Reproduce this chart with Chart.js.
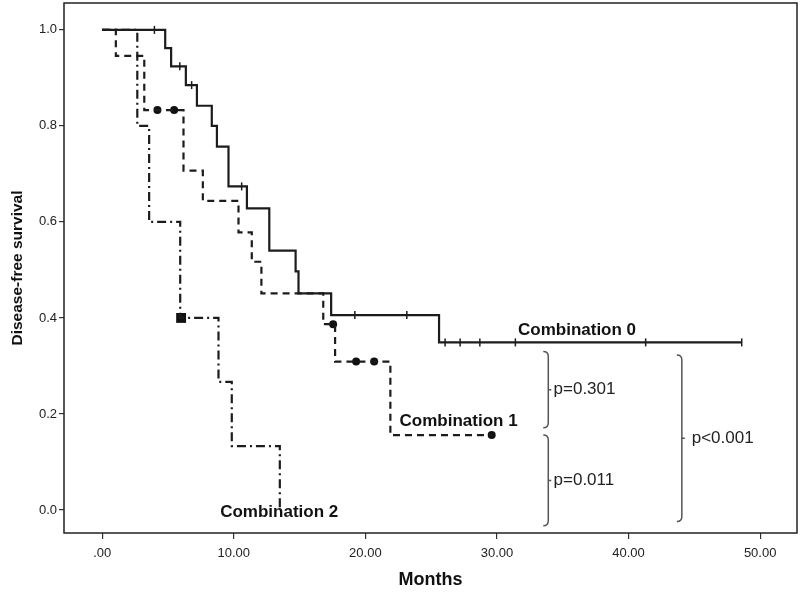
<!DOCTYPE html>
<html>
<head>
<meta charset="utf-8">
<title>Disease-free survival</title>
<script src="https://cdn.jsdelivr.net/npm/chart.js@4.4.1/dist/chart.umd.min.js"></script>
<style>
    html, body { margin: 0; padding: 0; background: #fff; }
    #wrap { width: 800px; height: 595px; }
</style>
</head>
<body>
<div id="wrap"><canvas id="kmChart" width="800" height="595"></canvas></div>
<script>
// Kaplan-Meier steps: event time (months) and survival just after it
const combo0Times = [0, 4.79, 5.24, 6.36, 7.2, 8.33, 8.72, 9.6, 11.0, 12.7, 14.7, 14.92, 17.4, 25.6, 48.6];
const combo0Surv  = [1, 0.962, 0.924, 0.885, 0.842, 0.80, 0.757, 0.674, 0.628, 0.54, 0.497, 0.451, 0.406, 0.349, 0.349];
const combo0Censored = [3.97, 5.9, 6.8, 10.6, 19.2, 23.15, 26.06, 27.2, 28.7, 31.4, 41.3, 48.6];

const combo1Times = [0, 1.04, 3.2, 6.18, 7.65, 10.36, 11.37, 12.1, 16.8, 17.7, 21.9, 29.6];
const combo1Surv  = [1, 0.946, 0.833, 0.707, 0.644, 0.578, 0.517, 0.451, 0.387, 0.309, 0.156, 0.156];
const combo1Censored = [4.2, 5.47, 17.55, 19.3, 20.67, 29.6];

const combo2Times = [0, 2.67, 3.57, 5.93, 8.84, 9.85, 13.5];
const combo2Surv  = [1, 0.8, 0.6, 0.4, 0.267, 0.133, 0];
const combo2Censored = [6.0];

const xTicks = [0, 10, 20, 30, 40, 50];
const yTicks = [0, 0.2, 0.4, 0.6, 0.8, 1.0];

// curve names written on the plot
const curveLabels = ['Combination 0', 'Combination 1', 'Combination 2'];
const curveLabelX = [31.6, 22.6, 8.97];
const curveLabelY = [0.375, 0.184, -0.004];

// log-rank comparison brackets
const bracketLabels = ['p=0.301', 'p=0.011', 'p<0.001'];
const bracketX = [33.9, 33.9, 44.05];
const bracketTop = [0.33, 0.156, 0.323];
const bracketBottom = [0.171, -0.033, -0.024];
const bracketLabelX = [34.3, 34.3, 44.8];

function toPoints(times, surv) {
    return times.map((t, i) => ({ x: t, y: surv[i] }));
}

// survival value of the step curve at time t
function survAt(times, surv, t) {
    let s = surv[0];
    times.forEach((tt, i) => { if (tt <= t) s = surv[i]; });
    return s;
}

function censorPoints(censored, times, surv) {
    return censored.map(t => ({ x: t, y: survAt(times, surv, t) }));
}

// no extra room for tick labels overflowing the plot
function noOverflow(scale) {
    scale.paddingTop = 0;
    scale.paddingBottom = 0;
    scale.paddingLeft = 0;
    scale.paddingRight = 0;
}

const lineColor = '#1c1c1c';

const kmDecorations = {
    id: 'kmDecorations',
    afterDraw(chart) {
        const { ctx, chartArea: a, scales: { x, y } } = chart;
        ctx.save();

        // frame round the plot
        ctx.strokeStyle = '#222';
        ctx.lineWidth = 1.5;
        ctx.strokeRect(a.left, a.top, a.right - a.left, a.bottom - a.top);

        // curve names
        ctx.fillStyle = '#111';
        ctx.font = 'bold 17px "Liberation Sans", Arial, sans-serif';
        ctx.textBaseline = 'middle';
        ctx.textAlign = 'left';
        curveLabels.forEach((txt, i) => {
            ctx.fillText(txt, x.getPixelForValue(curveLabelX[i]), y.getPixelForValue(curveLabelY[i]));
        });

        // brackets with p values
        ctx.strokeStyle = '#555';
        ctx.lineWidth = 1.5;
        ctx.font = '17px "Liberation Sans", Arial, sans-serif';
        ctx.fillStyle = '#222';
        bracketLabels.forEach((txt, i) => {
            const bx = x.getPixelForValue(bracketX[i]);
            const y1 = y.getPixelForValue(bracketTop[i]);
            const y2 = y.getPixelForValue(bracketBottom[i]);
            const mid = (y1 + y2) / 2;
            ctx.beginPath();
            ctx.moveTo(bx - 5, y1);
            ctx.quadraticCurveTo(bx, y1, bx, y1 + 5);
            ctx.lineTo(bx, y2 - 5);
            ctx.quadraticCurveTo(bx, y2, bx - 5, y2);
            ctx.moveTo(bx, mid);
            ctx.lineTo(bx + 3, mid);
            ctx.stroke();
            ctx.fillText(txt, x.getPixelForValue(bracketLabelX[i]), mid);
        });

        ctx.restore();
    }
};

const stepStyle = {
    stepped: 'before',
    pointRadius: 0,
    fill: false,
    borderColor: lineColor,
    borderWidth: 2.2
};

const ctxKm = document.getElementById('kmChart').getContext('2d');
const kmChart = new Chart(ctxKm, {
    type: 'scatter',
    data: {
        datasets: [
            {
                ...stepStyle,
                label: 'Combination 0',
                data: toPoints(combo0Times, combo0Surv),
                showLine: true
            },
            {
                ...stepStyle,
                label: 'Combination 1',
                data: toPoints(combo1Times, combo1Surv),
                showLine: true,
                borderDash: [7, 5]
            },
            {
                ...stepStyle,
                label: 'Combination 2',
                data: toPoints(combo2Times, combo2Surv),
                showLine: true,
                borderDash: [9, 4, 2, 4]
            },
            {
                label: 'Combination 0 censored',
                data: censorPoints(combo0Censored, combo0Times, combo0Surv),
                showLine: false,
                pointStyle: 'line',
                rotation: 90,
                pointRadius: 4,
                borderWidth: 1.5,
                borderColor: lineColor
            },
            {
                label: 'Combination 1 censored',
                data: censorPoints(combo1Censored, combo1Times, combo1Surv),
                showLine: false,
                pointStyle: 'circle',
                pointRadius: 4,
                borderWidth: 0,
                backgroundColor: '#111'
            },
            {
                label: 'Combination 2 censored',
                data: censorPoints(combo2Censored, combo2Times, combo2Surv),
                showLine: false,
                pointStyle: 'rect',
                pointRadius: 7,
                borderWidth: 0,
                backgroundColor: '#111'
            }
        ]
    },
    options: {
        responsive: false,
        animation: false,
        devicePixelRatio: 1,
        layout: { autoPadding: false, padding: { top: 3, right: 3, left: 0, bottom: 0 } },
        plugins: {
            legend: { display: false },
            tooltip: { enabled: false }
        },
        scales: {
            x: {
                type: 'linear',
                min: -2.9,
                max: 52.8,
                afterBuildTicks: scale => { scale.ticks = xTicks.map(v => ({ value: v })); },
                afterFit: scale => { scale.height = 62; noOverflow(scale); },
                border: { display: false },
                grid: { drawOnChartArea: false, drawTicks: true, tickLength: 6, color: '#333', lineWidth: 1.2 },
                ticks: {
                    padding: 7,
                    color: '#222',
                    font: { family: '"Liberation Sans", Arial, sans-serif', size: 13 },
                    maxRotation: 0,
                    callback: v => v === 0 ? '.00' : v.toFixed(2)
                },
                title: {
                    display: true,
                    text: 'Months',
                    color: '#111',
                    padding: { top: 0, bottom: 4 },
                    font: { family: '"Liberation Sans", Arial, sans-serif', size: 18, weight: 'bold' }
                }
            },
            y: {
                type: 'linear',
                min: -0.048,
                max: 1.056,
                afterBuildTicks: scale => { scale.ticks = yTicks.map(v => ({ value: v })); },
                afterFit: scale => { scale.width = 64; noOverflow(scale); },
                border: { display: false },
                grid: { drawOnChartArea: false, drawTicks: true, tickLength: 5, color: '#333', lineWidth: 1.2 },
                ticks: {
                    padding: 2,
                    color: '#222',
                    font: { family: '"Liberation Sans", Arial, sans-serif', size: 13 },
                    callback: v => v.toFixed(1)
                },
                title: {
                    display: true,
                    text: 'Disease-free survival',
                    color: '#111',
                    padding: { top: 8, bottom: 0 },
                    font: { family: '"Liberation Sans", Arial, sans-serif', size: 15.5, weight: 'bold' }
                }
            }
        }
    },
    plugins: [kmDecorations]
});
</script>
</body>
</html>
